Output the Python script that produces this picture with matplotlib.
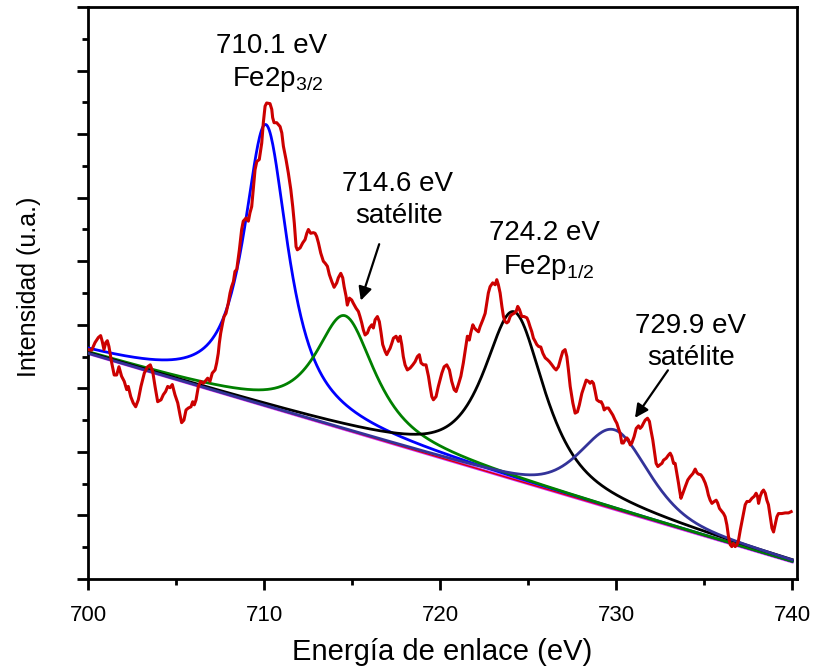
import numpy as np
import matplotlib
matplotlib.use("Agg")
import matplotlib.pyplot as plt
from matplotlib.ticker import MultipleLocator, NullFormatter

plt.rcParams['font.family'] = ['Liberation Sans', 'DejaVu Sans']
plt.rcParams['mathtext.fontset'] = 'custom'
plt.rcParams['mathtext.rm'] = 'Liberation Sans'
plt.rcParams['mathtext.it'] = 'Liberation Sans'
plt.rcParams['mathtext.default'] = 'regular'

# ---------------- measured Fe 2p spectrum (u.a.) ----------------
energy = [
    700.00, 700.21, 700.40, 700.59, 700.72, 700.81, 700.91, 701.01, 701.10, 701.19,
    701.35, 701.49, 701.63, 701.76, 701.91, 702.06, 702.20, 702.29, 702.43, 702.57,
    702.71, 702.86, 703.01, 703.20, 703.39, 703.54, 703.68, 703.81, 703.96, 704.15,
    704.28, 704.41, 704.53, 704.66, 704.79, 704.94, 705.10, 705.23, 705.32, 705.45,
    705.57, 705.70, 705.85, 705.95, 706.04, 706.14, 706.27, 706.40, 706.55, 706.65,
    706.80, 706.93, 707.06, 707.22, 707.31, 707.40, 707.46, 707.54, 707.65, 707.73,
    707.84, 707.97, 708.07, 708.16, 708.26, 708.35, 708.45, 708.60, 708.73, 708.82,
    708.98, 709.11, 709.20, 709.30, 709.39, 709.49, 709.59, 709.73, 709.87, 709.96,
    710.06, 710.15, 710.34, 710.44, 710.49, 710.57, 710.72, 710.91, 711.01, 711.10,
    711.25, 711.38, 711.52, 711.63, 711.72, 711.82, 711.89, 712.05, 712.20, 712.33,
    712.43, 712.52, 712.65, 712.80, 712.90, 712.99, 713.09, 713.22, 713.37, 713.47,
    713.60, 713.71, 713.85, 713.98, 714.13, 714.22, 714.36, 714.47, 714.55, 714.66,
    714.73, 714.85, 714.98, 715.07, 715.23, 715.36, 715.45, 715.55, 715.64, 715.74,
    715.87, 715.98, 716.12, 716.21, 716.31, 716.44, 716.55, 716.65, 716.74, 716.88,
    716.97, 717.06, 717.16, 717.26, 717.35, 717.50, 717.63, 717.73, 717.82, 717.91,
    718.01, 718.14, 718.30, 718.45, 718.58, 718.71, 718.82, 718.92, 719.05, 719.20,
    719.34, 719.43, 719.53, 719.62, 719.77, 719.90, 720.10, 720.23, 720.38, 720.53,
    720.66, 720.80, 720.91, 721.04, 721.18, 721.32, 721.48, 721.55, 721.66, 721.74,
    721.86, 721.95, 722.05, 722.18, 722.27, 722.43, 722.56, 722.65, 722.74, 722.84,
    722.99, 723.13, 723.22, 723.31, 723.41, 723.51, 723.60, 723.69, 723.79, 723.88,
    723.98, 724.07, 724.20, 724.32, 724.41, 724.51, 724.64, 724.77, 724.93, 725.02,
    725.11, 725.21, 725.30, 725.40, 725.49, 725.59, 725.72, 725.84, 725.97, 726.10,
    726.21, 726.35, 726.48, 726.59, 726.72, 726.86, 726.97, 727.10, 727.20, 727.29,
    727.39, 727.54, 727.67, 727.80, 727.91, 728.05, 728.18, 728.30, 728.43, 728.52,
    728.62, 728.71, 728.81, 728.90, 729.05, 729.15, 729.24, 729.32, 729.43, 729.56,
    729.70, 729.81, 729.94, 730.04, 730.13, 730.23, 730.32, 730.41, 730.51, 730.61,
    730.70, 730.80, 730.89, 731.02, 731.14, 731.27, 731.36, 731.46, 731.55, 731.65,
    731.78, 731.89, 731.97, 732.08, 732.16, 732.27, 732.37, 732.50, 732.60, 732.69,
    732.84, 732.97, 733.07, 733.16, 733.26, 733.35, 733.45, 733.54, 733.60, 733.68,
    733.79, 733.92, 734.07, 734.20, 734.36, 734.49, 734.59, 734.68, 734.81, 734.93,
    735.06, 735.15, 735.24, 735.34, 735.44, 735.57, 735.68, 735.76, 735.87, 736.01,
    736.10, 736.19, 736.29, 736.38, 736.48, 736.57, 736.66, 736.76, 736.86, 736.95,
    737.05, 737.14, 737.23, 737.33, 737.43, 737.57, 737.71, 737.84, 737.95, 738.03,
    738.09, 738.18, 738.28, 738.37, 738.47, 738.56, 738.65, 738.75, 738.85, 738.94,
    739.03, 739.13, 739.22, 739.41, 739.60, 739.79, 739.94,
]
intensity = [
    3.61, 3.60, 3.72, 3.80, 3.83, 3.74, 3.61, 3.72, 3.75, 3.66,
    3.40, 3.21, 3.21, 3.34, 3.19, 3.11, 2.98, 3.03, 2.87, 2.77,
    2.71, 2.82, 3.03, 3.24, 3.34, 3.37, 3.26, 3.03, 2.79, 2.82,
    2.90, 2.95, 3.03, 3.01, 3.06, 2.90, 2.77, 2.58, 2.46, 2.50,
    2.66, 2.69, 2.71, 2.79, 2.74, 2.82, 3.03, 3.11, 3.08, 3.11,
    3.16, 3.11, 3.24, 3.29, 3.40, 3.55, 3.71, 3.87, 4.03, 4.13,
    4.18, 4.34, 4.50, 4.60, 4.68, 4.84, 4.87, 5.18, 5.50, 5.63,
    5.68, 5.63, 5.76, 5.86, 6.13, 6.44, 6.57, 6.60, 6.86, 7.18,
    7.44, 7.49, 7.48, 7.39, 7.26, 7.18, 7.18, 7.12, 7.02, 6.81,
    6.60, 6.39, 6.13, 5.86, 5.60, 5.23, 5.18, 5.21, 5.29, 5.34,
    5.44, 5.50, 5.44, 5.45, 5.44, 5.39, 5.29, 5.13, 5.00, 4.97,
    4.92, 4.79, 4.68, 4.59, 4.66, 4.74, 4.81, 4.74, 4.60, 4.45,
    4.31, 4.42, 4.39, 4.34, 4.26, 4.21, 4.13, 4.03, 3.92, 3.84,
    3.87, 3.95, 4.00, 3.95, 4.08, 4.13, 4.05, 3.87, 3.69, 3.58,
    3.53, 3.58, 3.63, 3.71, 3.79, 3.82, 3.74, 3.82, 3.69, 3.50,
    3.37, 3.29, 3.32, 3.37, 3.42, 3.50, 3.53, 3.40, 3.37, 3.37,
    3.19, 3.03, 2.87, 2.82, 2.87, 3.03, 3.24, 3.34, 3.37, 3.29,
    3.11, 2.98, 2.95, 3.06, 3.19, 3.40, 3.69, 3.82, 3.76, 3.87,
    4.00, 3.95, 3.92, 3.89, 3.97, 4.08, 4.18, 4.34, 4.50, 4.60,
    4.66, 4.63, 4.71, 4.63, 4.50, 4.29, 4.13, 4.05, 4.03, 4.05,
    4.13, 4.16, 4.18, 4.21, 4.29, 4.24, 4.13, 4.13, 4.11, 4.05,
    3.97, 3.89, 3.79, 3.74, 3.69, 3.66, 3.65, 3.55, 3.48, 3.45,
    3.42, 3.37, 3.32, 3.29, 3.34, 3.48, 3.58, 3.61, 3.50, 3.29,
    3.03, 2.77, 2.61, 2.63, 2.74, 2.92, 3.03, 3.13, 3.11, 3.08,
    3.11, 3.08, 2.95, 2.82, 2.79, 2.79, 2.74, 2.66, 2.69, 2.69,
    2.63, 2.58, 2.50, 2.45, 2.37, 2.29, 2.14, 2.14, 2.19, 2.22,
    2.19, 2.11, 2.14, 2.24, 2.37, 2.41, 2.37, 2.40, 2.45, 2.50,
    2.53, 2.48, 2.35, 2.19, 2.03, 1.82, 1.77, 1.80, 1.82, 1.87,
    1.90, 1.95, 1.98, 1.93, 1.82, 1.82, 1.66, 1.51, 1.40, 1.27,
    1.35, 1.45, 1.56, 1.61, 1.66, 1.73, 1.67, 1.65, 1.64, 1.59,
    1.51, 1.43, 1.32, 1.24, 1.19, 1.22, 1.24, 1.20, 1.11, 1.06,
    1.03, 0.98, 0.85, 0.67, 0.54, 0.51, 0.56, 0.51, 0.54, 0.61,
    0.77, 0.90, 1.03, 1.17, 1.22, 1.22, 1.27, 1.30, 1.35, 1.30,
    1.19, 1.30, 1.37, 1.40, 1.35, 1.24, 1.17, 0.98, 0.80, 0.74,
    0.85, 0.98, 1.03, 1.03, 1.04, 1.04, 1.06,
]

# ---------------- linear background end points ----------------
bg_energy = [700.0, 740.0]
bg_intensity = [3.55, 0.27]

# ---------------- fitted components ----------------
peak_centers = [710.1, 714.6, 724.2, 729.9]
peak_heights = [4.43, 1.79, 2.64, 1.25]   # above background
peak_fwhm = [3.0, 4.0, 4.1, 4.6]
peak_eta = [0.9, 0.85, 0.8, 0.5]          # lorentzian fraction
peak_colors = ['#0000ff', '#008000', '#000000', '#333399']

peak_texts = ['710.1 eV', '714.6 eV', '724.2 eV', '729.9 eV']
peak_names = ['Fe2p$_{3/2}$', 'satélite', 'Fe2p$_{1/2}$', 'satélite']


def pseudo_voigt(x, c, h, w, eta):
    d = (x - c) / w
    lor = 1.0 / (1.0 + 4.0 * d ** 2)
    gau = np.exp(-4.0 * np.log(2) * d ** 2)
    return h * (eta * lor + (1.0 - eta) * gau)


xfit = np.linspace(700, 740, 801)
background = np.interp(xfit, bg_energy, bg_intensity)

fig = plt.figure(figsize=(8.19, 6.7), dpi=100)
ax = fig.add_axes([0.1074, 0.1358, 0.8657, 0.8537])

# background
ax.plot(bg_energy, bg_intensity, color='#cc33ff', lw=2.2, zorder=2)
ax.plot(bg_energy, bg_intensity, color='#dd0000', lw=1.0, zorder=2.1)

for c, h, w, eta, col in zip(peak_centers, peak_heights, peak_fwhm, peak_eta, peak_colors):
    ax.plot(xfit, background + pseudo_voigt(xfit, c, h, w, eta), color=col, lw=2.0, zorder=3)

ax.plot(energy, intensity, color='#cc0000', lw=2.2, zorder=4)

# peak labels
fs = 20
ax.text(710.44, 8.28, peak_texts[0], ha='center', va='baseline', fontsize=fs)
ax.text(708.16, 7.75, peak_names[0], ha='left', va='baseline', fontsize=fs)
ax.text(717.60, 6.10, peak_texts[1], ha='center', va='baseline', fontsize=fs)
ax.text(717.67, 5.60, peak_names[1], ha='center', va='baseline', fontsize=fs)
ax.text(725.91, 5.34, peak_texts[2], ha='center', va='baseline', fontsize=fs)
ax.text(723.56, 4.80, peak_names[2], ha='left', va='baseline', fontsize=fs)
ax.text(734.20, 3.87, peak_texts[3], ha='center', va='baseline', fontsize=fs)
ax.text(734.25, 3.37, peak_names[3], ha='center', va='baseline', fontsize=fs)

arrow = dict(arrowstyle='-|>', color='k', lw=1.6, mutation_scale=20)
ax.annotate('', xy=(715.45, 4.34), xytext=(716.59, 5.31), arrowprops=arrow)
ax.annotate('', xy=(730.98, 2.50), xytext=(733.03, 3.32), arrowprops=arrow)

ax.set_xlim(700, 740.27)
ax.set_ylim(0, 9.0)
ax.xaxis.set_major_locator(MultipleLocator(10))
ax.xaxis.set_minor_locator(MultipleLocator(5))
ax.yaxis.set_major_locator(MultipleLocator(1))
ax.yaxis.set_minor_locator(MultipleLocator(0.5))
ax.yaxis.set_major_formatter(NullFormatter())

for s in ax.spines.values():
    s.set_linewidth(2.0)
ax.tick_params(which='both', direction='out', width=2.0, top=False, right=False)
ax.tick_params(which='major', length=8, labelsize=16, pad=11)
ax.tick_params(which='minor', length=4.5)

fig.text(442 / 819, 1 - 660 / 670, 'Energía de enlace (eV)', ha='center', va='baseline', fontsize=21)
fig.text(36 / 819, 1 - 287 / 670, 'Intensidad (u.a.)', ha='center', va='baseline',
         rotation=90, rotation_mode='anchor', fontsize=18)

fig.savefig('out.png', dpi=100)
